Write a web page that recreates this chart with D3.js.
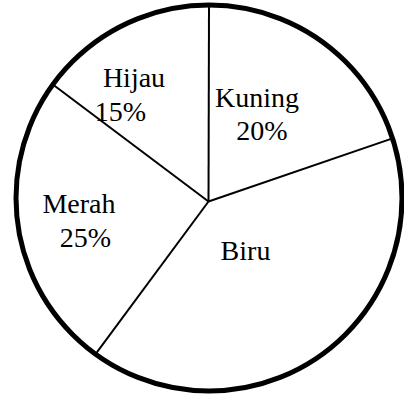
<!DOCTYPE html>
<html>
<head>
<meta charset="utf-8">
<script src="https://cdn.jsdelivr.net/npm/d3@7"></script>
<style>
  html, body { margin: 0; padding: 0; background: #fff; }
  svg { display: block; }
  text { font-family: "Liberation Serif", "Times New Roman", serif; font-size: 28px; fill: #000; }
</style>
</head>
<body>
<svg id="chart" width="404" height="394"></svg>
<script>
// Colour survey: share of each colour (percent), clockwise from the top
const categories = ["Kuning", "Biru", "Merah", "Hijau"];
const values = [20, 40, 25, 15];
const showPercent = [true, false, true, true];

const svg = d3.select("#chart");

// Outer circle and the meeting point of the dividing lines
const cx = 209, cy = 198, radius = 193;
const hub = { x: 208.5, y: 201.5 };

const pie = d3.pie().sort(null).value(d => d.value).startAngle(0).endAngle(2 * Math.PI);
const slices = pie(categories.map((c, i) => ({ name: c, value: values[i], pct: showPercent[i] })));

// Dividing lines: one at the start of each slice (angles clockwise from 12 o'clock)
svg.append("g")
  .selectAll("line")
  .data(slices)
  .join("line")
  .attr("x1", hub.x)
  .attr("y1", hub.y)
  .attr("x2", d => cx + radius * Math.sin(d.startAngle))
  .attr("y2", d => cy - radius * Math.cos(d.startAngle))
  .attr("stroke", "#000")
  .attr("stroke-width", 2);

// Outer rim
svg.append("circle")
  .attr("cx", cx)
  .attr("cy", cy)
  .attr("r", radius)
  .attr("fill", "none")
  .attr("stroke", "#000")
  .attr("stroke-width", 5);

// Label anchors for each slice (name line, percent line)
const labelPos = {
  "Kuning": [[257, 107], [262, 140]],
  "Biru":   [[245.5, 259.5]],
  "Merah":  [[79, 213], [85.5, 247]],
  "Hijau":  [[134, 87], [120.5, 120.5]]
};

const labels = svg.append("g");
slices.forEach(s => {
  const pos = labelPos[s.data.name];
  labels.append("text")
    .attr("x", pos[0][0])
    .attr("y", pos[0][1])
    .attr("text-anchor", "middle")
    .text(s.data.name);
  if (s.data.pct) {
    labels.append("text")
      .attr("x", pos[1][0])
      .attr("y", pos[1][1])
      .attr("text-anchor", "middle")
      .text(s.data.value + "%");
  }
});
</script>
</body>
</html>
